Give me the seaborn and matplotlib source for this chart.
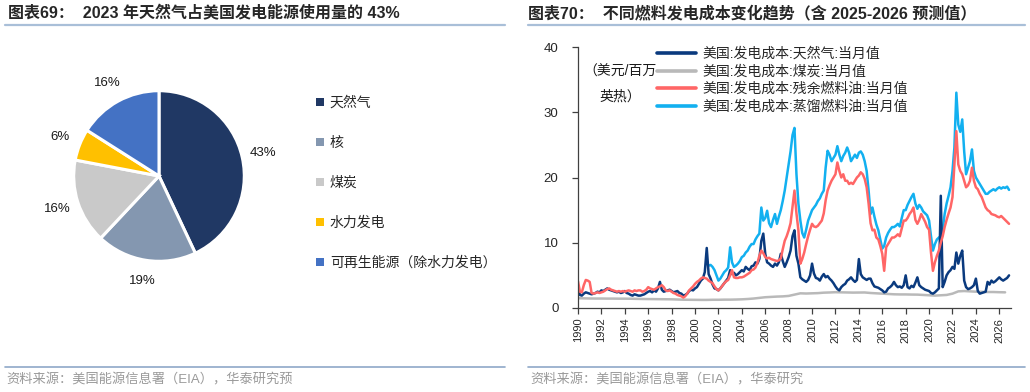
import numpy as np
import pandas as pd
import matplotlib
matplotlib.use('Agg')
import matplotlib.pyplot as plt
import matplotlib.dates as mdates
from matplotlib.lines import Line2D
from matplotlib.patches import Patch
import seaborn as sns

# ---- left panel: 2023 US power generation fuel share ----
pie_labels = ['天然气', '核', '煤炭', '水力发电', '可再生能源（除水力发电）']
pie_values = [43, 19, 16, 6, 16]
pie_colors = ['#203864', '#8497B0', '#C9C9C9', '#FFC000', '#4472C4']

# ---- right panel: generation cost, USD / MMBtu, bimonthly (Jan, Mar, May, Jul, Sep, Nov) ----
gas_cost = [
    3.2, 2.0, 1.9, 2.2, 2.4, 2.3,      # 1990
    2.2, 2.1, 2.2, 2.3, 2.5, 2.4,      # 1991
    2.7, 2.6, 2.8, 3.0, 2.8, 2.7,      # 1992
    2.6, 2.5, 2.4, 2.5, 2.3, 2.4,      # 1993
    2.6, 2.3, 2.2, 2.0, 1.9, 2.1,      # 1994
    2.0, 1.9, 1.9, 2.0, 2.1, 2.3,      # 1995
    2.5, 2.6, 2.4, 2.7, 2.5, 3.0,      # 1996
    4.0, 2.8, 2.5, 2.6, 2.7, 2.8,      # 1997
    2.6, 2.4, 2.5, 2.6, 2.3, 2.2,      # 1998
    1.9, 2.0, 2.2, 2.6, 2.8, 2.7,      # 1999
    3.0, 3.2, 3.7, 4.2, 4.5, 5.5,      # 2000
    9.2, 5.2, 4.5, 3.6, 3.0, 2.9,      # 2001
    2.7, 3.0, 3.4, 3.8, 4.2, 4.6,      # 2002
    5.8, 5.2, 5.4, 5.0, 5.2, 5.5,      # 2003
    5.8, 5.6, 6.3, 6.0, 5.8, 6.4,      # 2004
    6.5, 7.0, 6.8, 7.5, 10.3, 11.4,    # 2005
    8.3, 7.0, 6.8, 6.5, 6.3, 6.8,      # 2006
    6.5, 7.0, 8.3, 7.2, 6.3, 7.0,      # 2007
    7.8, 8.8, 11.0, 11.9, 8.0, 6.8,    # 2008
    4.7, 4.4, 4.2, 4.0, 4.3, 5.0,      # 2009
    6.8, 5.3, 4.6, 4.5, 4.2, 4.8,      # 2010
    5.2, 4.7, 4.9, 4.5, 4.2, 3.8,      # 2011
    3.3, 2.9, 2.7, 3.2, 3.5, 3.7,      # 2012
    4.2, 4.4, 4.7, 4.3, 4.0, 4.3,      # 2013
    7.5, 5.2, 4.7, 4.5, 4.3, 4.5,      # 2014
    4.5, 3.8, 3.3, 3.2, 3.1, 2.9,      # 2015
    2.7, 2.4, 2.5, 3.0, 3.2, 3.5,      # 2016
    4.0, 3.5, 3.2, 3.3, 3.1, 3.5,      # 2017
    5.0, 3.2, 3.0, 3.4, 3.2, 3.9,      # 2018
    4.7, 3.5, 3.2, 3.0, 2.8, 2.7,      # 2019
    2.6, 2.3, 2.2, 2.4, 2.7, 3.0,      # 2020
    17.2, 3.2, 4.0, 5.0, 5.5, 5.8,     # 2021
    6.3, 6.0, 8.5, 6.8, 8.0, 8.8,      # 2022
    4.2, 3.2, 2.9, 3.0, 3.2, 3.5,      # 2023
    4.5, 2.6, 2.2, 2.3, 2.4, 2.5,      # 2024
    4.0, 3.6, 4.2, 3.9, 4.1, 4.4,      # 2025
    4.7, 4.4, 4.2, 4.4, 4.6, 5.0,      # 2026
]

# coal is smooth, half-yearly (Jan, Jul)
coal_cost = [
    1.50, 1.48, 1.46, 1.45, 1.45, 1.44, 1.44, 1.43, 1.43, 1.42,
    1.40, 1.38, 1.37, 1.36, 1.35, 1.34, 1.33, 1.30, 1.27, 1.26,
    1.25, 1.24, 1.24, 1.26, 1.26, 1.28, 1.28, 1.30, 1.33, 1.38,
    1.45, 1.55, 1.65, 1.70, 1.75, 1.78, 1.85, 2.05, 2.25, 2.22,
    2.25, 2.28, 2.35, 2.38, 2.42, 2.40, 2.38, 2.36, 2.37, 2.38,
    2.30, 2.25, 2.20, 2.15, 2.10, 2.08, 2.08, 2.06, 2.05, 2.00,
    1.95, 1.90, 1.95, 2.00, 2.20, 2.55, 2.60, 2.55, 2.50, 2.48,
    2.45, 2.45, 2.42, 2.40,
]

resid_cost = [
    4.1, 2.5, 2.4, 3.5, 4.3, 4.2,      # 1990
    4.0, 2.3, 2.2, 2.3, 2.4, 2.3,      # 1991
    2.4, 2.5, 2.7, 2.9, 3.0, 2.8,      # 1992
    2.7, 2.6, 2.5, 2.6, 2.5, 2.6,      # 1993
    2.5, 2.6, 2.7, 2.6, 2.5, 2.7,      # 1994
    2.6, 2.7, 2.7, 2.5, 2.6, 2.8,      # 1995
    3.2, 3.0, 2.9, 2.8, 3.0, 3.2,      # 1996
    3.3, 3.5, 3.2, 2.7, 2.6, 2.7,      # 1997
    2.5, 2.3, 2.2, 2.0, 1.9, 1.8,      # 1998
    1.6, 1.8, 2.2, 2.7, 3.0, 3.3,      # 1999
    3.7, 4.0, 4.2, 4.5, 4.7, 4.6,      # 2000
    4.5, 4.2, 4.0, 3.8, 3.3, 2.9,      # 2001
    2.7, 3.0, 3.4, 3.8, 4.1, 4.3,      # 2002
    5.0, 5.8, 4.7, 4.6, 4.6, 4.7,      # 2003
    4.7, 4.8, 5.0, 5.2, 5.4, 5.8,      # 2004
    5.9, 6.2, 6.9, 8.0, 8.8, 8.4,      # 2005
    7.8, 7.6, 7.7, 7.5, 7.4, 7.3,      # 2006
    7.2, 7.3, 7.6, 9.0, 10.3, 11.0,    # 2007
    11.9, 13.0, 15.5, 18.0, 14.5, 11.9,  # 2008
    6.8, 7.5, 8.5, 9.8, 11.0, 12.0,    # 2009
    12.9, 12.5, 12.4, 12.6, 13.0, 13.4,  # 2010
    14.5, 16.5, 18.0, 18.8, 19.5, 20.0,  # 2011
    20.5, 22.3, 21.0, 20.0, 20.5, 19.5,  # 2012
    19.5, 19.0, 19.2, 19.0, 19.5, 20.0,  # 2013
    20.3, 20.8, 20.5, 19.8, 18.5, 16.0,  # 2014
    13.0, 11.9, 12.0, 10.8, 10.5, 9.5,   # 2015
    8.3, 5.7, 9.3, 9.8, 10.3, 10.8,      # 2016
    10.8, 11.0, 11.3, 11.0, 12.2, 13.4,  # 2017
    13.4, 13.8, 14.4, 14.8, 15.4, 13.5,  # 2018
    12.9, 13.5, 14.4, 13.8, 13.2, 12.4,  # 2019
    12.0, 8.5, 5.7, 7.0, 8.0, 8.8,       # 2020
    10.0, 11.0, 12.4, 13.5, 14.5, 15.4,  # 2021
    17.0, 22.0, 27.1, 22.0, 21.0, 20.5,  # 2022
    19.5, 18.5, 18.8, 19.5, 21.5, 19.5,  # 2023
    18.5, 18.2, 17.5, 17.0, 16.2, 15.4,  # 2024
    15.0, 14.8, 14.4, 14.3, 14.2, 14.0,  # 2025
    13.9, 14.1, 13.8, 13.5, 13.2, 12.9,  # 2026
]

# distillate series starts in 2001
dist_cost = [
    6.8, 6.5, 6.6, 6.3, 5.8, 5.0,        # 2001
    4.2, 4.5, 5.0, 5.5, 5.8, 6.2,        # 2002
    9.3, 7.0, 6.3, 6.5, 6.8, 7.2,        # 2003
    7.8, 8.0, 8.5, 8.8, 9.4, 9.8,        # 2004
    9.8, 10.5, 11.0, 11.4, 15.4, 13.4,   # 2005
    13.8, 14.9, 13.0, 12.4, 13.5, 14.4,  # 2006
    12.9, 14.0, 15.0, 16.4, 18.0, 20.0,  # 2007
    22.0, 24.0, 26.5, 27.6, 20.5, 16.0,  # 2008
    13.4, 11.5, 10.8, 12.0, 13.4, 14.2,  # 2009
    15.0, 15.4, 15.8, 16.4, 16.8, 17.5,  # 2010
    18.0, 21.5, 24.1, 23.5, 22.5, 23.0,  # 2011
    23.5, 24.8, 23.5, 22.5, 23.3, 23.8,  # 2012
    24.6, 23.8, 22.5, 23.0, 23.5, 23.0,  # 2013
    23.8, 24.0, 23.5, 22.5, 21.0, 18.0,  # 2014
    14.4, 15.4, 14.0, 12.8, 11.9, 10.5,  # 2015
    9.1, 9.5, 10.8, 11.5, 12.0, 12.4,    # 2016
    12.4, 12.6, 12.9, 12.5, 13.8, 15.0,  # 2017
    15.0, 15.8, 16.4, 17.0, 17.5, 16.0,  # 2018
    15.2, 15.8, 15.4, 14.8, 14.5, 14.2,  # 2019
    13.4, 11.0, 8.8, 9.8, 10.5, 10.8,    # 2020
    11.0, 12.0, 14.4, 16.0, 17.2, 18.5,  # 2021
    21.0, 24.6, 33.0, 28.1, 27.0, 28.9,  # 2022
    24.0, 20.5, 21.5, 22.5, 24.3, 21.0,  # 2023
    20.0, 19.5, 19.0, 18.5, 18.0, 17.5,  # 2024
    17.5, 17.8, 18.0, 18.2, 18.0, 18.3,  # 2025
    18.5, 18.3, 18.5, 18.4, 18.6, 18.1,  # 2026
]

series_names = ['美国:发电成本:天然气:当月值', '美国:发电成本:煤炭:当月值',
                '美国:发电成本:残余燃料油:当月值', '美国:发电成本:蒸馏燃料油:当月值']
series_colors = ['#0A3A7E', '#B9B9B9', '#FF6666', '#12B0F0']


def main():
    sns.set_theme(style='ticks')
    plt.rcParams['font.family'] = ['Liberation Sans', 'Noto Sans CJK SC']
    plt.rcParams['axes.unicode_minus'] = False

    fig = plt.figure(figsize=(10.3, 3.92), dpi=100)
    fig.patch.set_facecolor('white')

    # titles, separators, source notes
    fig.text(8 / 1030, 1 - 13 / 392, '图表69：  2023 年天然气占美国发电能源使用量的 43%',
             fontsize=11.5, fontweight='bold', va='center', ha='left')
    fig.text(528 / 1030, 1 - 13 / 392, '图表70：  不同燃料发电成本变化趋势（含 2025-2026 预测值）',
             fontsize=11.5, fontweight='bold', va='center', ha='left')
    for x0, x1 in [(5, 505), (528, 1025)]:
        fig.add_artist(Line2D([x0 / 1030, x1 / 1030], [1 - 25 / 392] * 2,
                              color='#A9BFD8', lw=1.6, transform=fig.transFigure))
        fig.add_artist(Line2D([x0 / 1030, x1 / 1030], [1 - 367 / 392] * 2,
                              color='#8FA8C8', lw=1.2, transform=fig.transFigure))
    fig.text(6 / 1030, 1 - 380 / 392, '资料来源：美国能源信息署（EIA），华泰研究预',
             fontsize=9.5, color='#999999', va='center', ha='left')
    fig.text(530 / 1030, 1 - 380 / 392, '资料来源：美国能源信息署（EIA），华泰研究',
             fontsize=9.5, color='#999999', va='center', ha='left')

    # ---- pie ----
    cx, cy, r = 159, 176, 87
    ax_pie = fig.add_axes([(cx - r) / 1030, 1 - (cy + r) / 392, 2 * r / 1030, 2 * r / 392])
    wedges, _, autotexts = ax_pie.pie(
        pie_values, colors=pie_colors, startangle=90, counterclock=False,
        autopct='%.0f%%', pctdistance=1.25, radius=1.0,
        wedgeprops=dict(edgecolor='white', linewidth=2.2),
        textprops=dict(fontsize=9.5, color='#1A1A1A'))
    ax_pie.set_xlim(-1.02, 1.02)
    ax_pie.set_ylim(-1.02, 1.02)
    ax_pie.set_aspect('equal')
    ax_pie.axis('off')

    pie_handles = [Patch(facecolor=c, edgecolor='none') for c in pie_colors]
    fig.legend(pie_handles, pie_labels, loc='upper left',
               bbox_to_anchor=(316 / 1030, 1 - 96 / 392), frameon=False,
               fontsize=10, handlelength=0.55, handleheight=0.55, handletextpad=0.45,
               labelspacing=1.87, borderpad=0, borderaxespad=0)

    # ---- line chart ----
    gas_dates = pd.date_range('1990-01-01', periods=len(gas_cost), freq='2MS')
    coal_dates = pd.date_range('1990-01-01', periods=len(coal_cost), freq='6MS')
    resid_dates = pd.date_range('1990-01-01', periods=len(resid_cost), freq='2MS')
    dist_dates = pd.date_range('2001-01-01', periods=len(dist_cost), freq='2MS')

    frames = []
    for name, dates, vals in zip(series_names,
                                 [gas_dates, coal_dates, resid_dates, dist_dates],
                                 [gas_cost, coal_cost, resid_cost, dist_cost]):
        frames.append(pd.DataFrame({'date': dates, 'value': vals, 'series': name}))
    df = pd.concat(frames, ignore_index=True)

    ax = fig.add_axes([578 / 1030, 1 - 308 / 392, (1011 - 578) / 1030, (308 - 47) / 392])
    draw_order = [series_names[1], series_names[3], series_names[0], series_names[2]]
    palette = dict(zip(series_names, series_colors))
    sns.lineplot(data=df, x='date', y='value', hue='series', hue_order=draw_order,
                 palette=palette, linewidth=1.8, ax=ax, legend=False)

    ax.set_xlim(pd.Timestamp('1990-01-01'), pd.Timestamp('2027-01-01'))
    ax.set_ylim(0, 40)
    ax.set_yticks([0, 10, 20, 30, 40])
    ax.xaxis.set_major_locator(mdates.YearLocator(2))
    ax.xaxis.set_major_formatter(mdates.DateFormatter('%Y'))
    ax.set_xlabel('')
    ax.set_ylabel('')
    for side in ['top', 'right']:
        ax.spines[side].set_visible(False)
    for side in ['left', 'bottom']:
        ax.spines[side].set_color('#404040')
        ax.spines[side].set_linewidth(0.9)
    ax.tick_params(axis='y', labelsize=9.5, length=4, width=0.9, color='#404040', pad=10)
    ax.tick_params(axis='x', labelsize=8, length=4, width=0.9, color='#404040',
                   labelrotation=90, pad=3)
    ax.set_facecolor('white')

    line_handles = [Line2D([0], [0], color=c, lw=2.6) for c in series_colors]
    ax.legend(line_handles, series_names, loc='upper left',
              bbox_to_anchor=(657 / 1030, 1 - 47 / 392), bbox_transform=fig.transFigure,
              frameon=False, fontsize=10, handlelength=2.8, handletextpad=0.45,
              labelspacing=0.25, borderpad=0, borderaxespad=0)

    fig.text(620 / 1030, 1 - 84 / 392, '（美元/百万\n英热）', fontsize=10,
             ha='center', va='center', linespacing=1.95, color='#1A1A1A')

    fig.savefig('out.png', dpi=100, facecolor='white')


if __name__ == "__main__":
    main()
